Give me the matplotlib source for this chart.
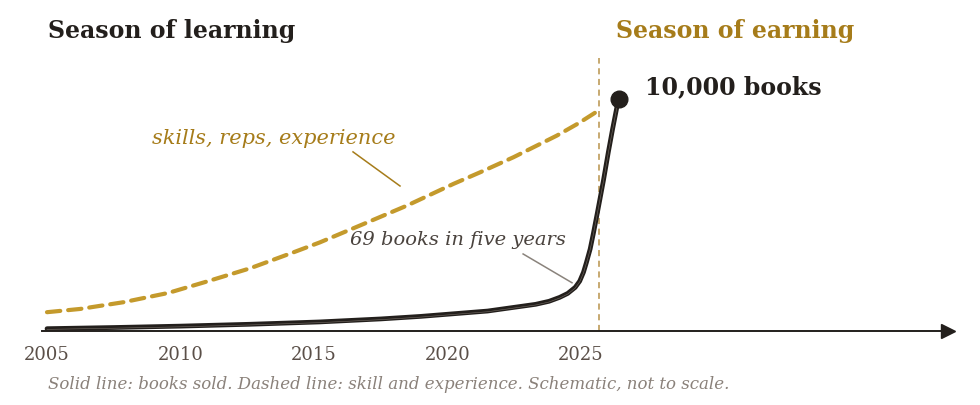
import matplotlib.pyplot as plt
import numpy as np

# books sold (schematic)
sold_years = [2005.0, 2007.5, 2010.0, 2012.6, 2015.2, 2017.5, 2019.0, 2021.5,
              2023.3, 2023.8, 2024.2, 2024.5, 2024.78, 2024.95, 2025.09,
              2025.2, 2025.34, 2025.46, 2025.59, 2025.71, 2025.84, 2025.93,
              2026.02, 2026.18, 2026.34, 2026.42]
sold_vals = [1.0, 1.5, 2.1, 2.9, 3.9, 5.2, 6.3, 8.6,
             11.5, 12.8, 14.5, 16.2, 18.8, 21.5, 25.3,
             29.5, 35.3, 42.0, 49.7, 57.0, 65.0, 71.0,
             77.0, 87.0, 96.4, 100.0]

# skill and experience (schematic)
skill_years = [2005.0, 2006.24, 2007.86, 2009.54, 2010.98, 2012.6, 2014.16,
               2015.22, 2016.85, 2018.47, 2020.22, 2021.22, 2022.47, 2024.09,
               2024.9, 2025.65]
skill_vals = [8.1, 9.5, 12.4, 16.4, 21.3, 27.0, 33.6,
              38.2, 46.1, 54.0, 63.4, 68.4, 74.9, 84.2,
              89.5, 95.0]

tick_years = [2005, 2010, 2015, 2020, 2025]
turn_year = 2025.67

dark = '#231f1c'
gold = '#c49a2c'
gold_text = '#a67c1a'
serif = 'DejaVu Serif'

fig = plt.figure(figsize=(9.8, 4.06), dpi=100)
ax = fig.add_axes([0, 0, 1, 1])
ax.set_xlim(2003.24, 2039.94)
ax.set_ylim(-31.9, 143.1)

for s in ['top', 'right', 'left']:
    ax.spines[s].set_visible(False)
ax.spines['bottom'].set_position(('data', 0))
ax.spines['bottom'].set_bounds(2004.8, 2038.5)
ax.spines['bottom'].set_color(dark)
ax.spines['bottom'].set_linewidth(1.4)
ax.set_yticks([])
ax.set_xticks(tick_years)
ax.set_xticklabels([str(y) for y in tick_years], family=serif,
                   fontsize=13, color='#5a4f48')
ax.tick_params(axis='x', length=0, pad=10)
# arrow head at end of axis
ax.plot([2038.75], [0], marker='>', markersize=10, color=dark, clip_on=False)

# turning point
ax.plot([turn_year, turn_year], [0, 117.5], color='#b8924a', lw=1.1,
        dashes=(4, 3))

# skill curve
ax.plot(skill_years, skill_vals, color=gold, lw=3, dashes=(3.2, 1.9),
        dash_capstyle='round')

# books curve (double stroke look)
ax.plot(sold_years, sold_vals, color=dark, lw=3.4, solid_capstyle='round',
        solid_joinstyle='round')
ax.plot(sold_years, np.array(sold_vals) - 0.3, color='#756c64', lw=0.4)
ax.plot([sold_years[-1]], [sold_vals[-1]], 'o', color=dark, markersize=12)

ax.text(2005.04, 129.7, 'Season of learning', family=serif, fontsize=17,
        fontweight='bold', color=dark, va='center', ha='left')
ax.text(2026.31, 129.7, 'Season of earning', family=serif, fontsize=17,
        fontweight='bold', color=gold_text, va='center', ha='left')
ax.text(2027.4, 105.6, '10,000 books', family=serif, fontsize=17,
        fontweight='bold', color=dark, va='center', ha='left')

ax.text(2013.5, 83.2, 'skills, reps, experience', family=serif, fontsize=15,
        style='italic', color=gold_text, va='center', ha='center')
ax.plot([2016.46, 2018.22], [77.2, 62.5], color=gold_text, lw=1.1)

ax.text(2020.39, 39.7, '69 books in five years', family=serif, fontsize=14,
        style='italic', color='#4a433e', va='center', ha='center')
ax.plot([2022.83, 2024.66], [33.2, 20.8], color='#8a837c', lw=1.1)

fig.text(48 / 980, 1 - 385 / 406,
         'Solid line: books sold. Dashed line: skill and experience. Schematic, not to scale.',
         family=serif, fontsize=12, style='italic', color='#8a817a',
         va='center', ha='left')

fig.savefig('out.png', dpi=100, facecolor='white')
